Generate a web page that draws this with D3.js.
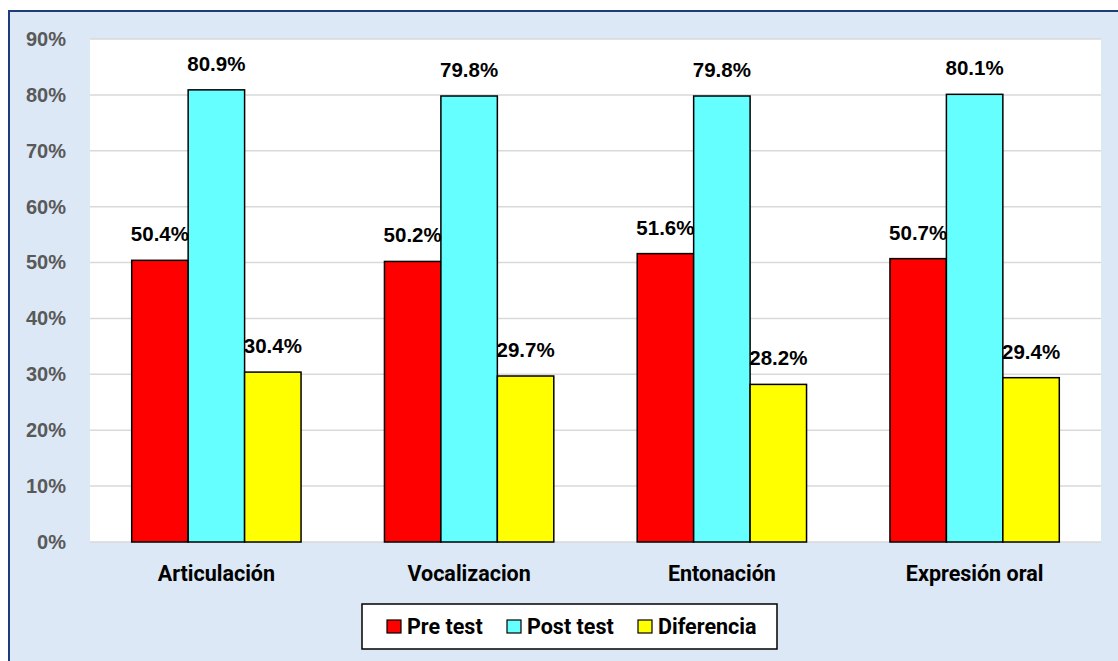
<!DOCTYPE html>
<html>
<head>
<meta charset="utf-8">
<script src="https://cdn.jsdelivr.net/npm/d3@7"></script>
<style>
  body { margin: 0; background: #fff; }
</style>
</head>
<body>
<div id="chart"></div>
<script>
// data
const categories = ["Articulación", "Vocalizacion", "Entonación", "Expresión oral"];
const seriesNames = ["Pre test", "Post test", "Diferencia"];
const preTest = [50.4, 50.2, 51.6, 50.7];
const postTest = [80.9, 79.8, 79.8, 80.1];
const diferencia = [30.4, 29.7, 28.2, 29.4];
const yTicks = [0, 10, 20, 30, 40, 50, 60, 70, 80, 90];
const colors = ["#ff0000", "#66ffff", "#ffff00"];

const W = 1118, H = 661;
const margin = { top: 39, right: 17, bottom: 119, left: 90 };
const width = W - margin.left - margin.right,
  height = H - margin.top - margin.bottom;

const svg = d3.select("#chart").append("svg")
  .attr("width", W)
  .attr("height", H);

// light blue chart area with dark border
svg.append("rect")
  .attr("x", 9).attr("y", 11)
  .attr("width", W + 20).attr("height", H + 20)
  .attr("fill", "#dce8f5")
  .attr("stroke", "#1f3b78")
  .attr("stroke-width", 2);

const g = svg.append("g")
  .attr("transform", `translate(${margin.left},${margin.top})`);

g.append("rect")
  .attr("width", width).attr("height", height)
  .attr("fill", "#fff");

const x0 = d3.scaleBand().domain(categories).range([0, width]).paddingInner(0).paddingOuter(0);
const x1 = d3.scaleBand().domain(seriesNames).range([0, x0.bandwidth() * 0.67]);
const groupOffset = x0.bandwidth() * 0.165;
const y = d3.scaleLinear().domain([0, 90]).range([height, 0]);

// gridlines
g.selectAll(".grid")
  .data(yTicks)
  .join("line")
  .attr("x1", 0).attr("x2", width)
  .attr("y1", d => y(d)).attr("y2", d => y(d))
  .attr("stroke", "#d9d9d9")
  .attr("stroke-width", 1.5);

// y axis labels
const yAxis = g.append("g")
  .call(d3.axisLeft(y).tickValues(yTicks).tickFormat(d => d + "%").tickSize(0).tickPadding(24));
yAxis.select(".domain").remove();
yAxis.selectAll("text")
  .style("font-family", "'Liberation Sans', Arial, sans-serif")
  .style("font-weight", "bold")
  .style("font-size", "20px")
  .attr("fill", "#595959");

const rows = categories.map((c, i) => ({
  cat: c,
  values: [preTest[i], postTest[i], diferencia[i]]
}));

const groups = g.selectAll(".grp")
  .data(rows)
  .join("g")
  .attr("transform", d => `translate(${x0(d.cat) + groupOffset},0)`);

groups.selectAll("rect")
  .data(d => d.values.map((v, j) => ({ name: seriesNames[j], v: v, j: j })))
  .join("rect")
  .attr("x", d => x1(d.name))
  .attr("y", d => y(d.v))
  .attr("width", x1.bandwidth())
  .attr("height", d => y(0) - y(d.v))
  .attr("fill", d => colors[d.j])
  .attr("stroke", "#000")
  .attr("stroke-width", 1.5);

groups.selectAll("text")
  .data(d => d.values.map((v, j) => ({ name: seriesNames[j], v: v, j: j })))
  .join("text")
  .attr("x", d => x1(d.name) + x1.bandwidth() / 2)
  .attr("y", d => y(d.v) - 19)
  .attr("text-anchor", "middle")
  .style("font-family", "'Liberation Sans', Arial, sans-serif")
  .style("font-weight", "bold")
  .style("font-size", "20.5px")
  .text(d => d.v.toFixed(1) + "%");

// category labels
g.selectAll(".cat")
  .data(categories)
  .join("text")
  .attr("x", d => x0(d) + x0.bandwidth() / 2)
  .attr("y", height + 39)
  .attr("text-anchor", "middle")
  .style("font-family", "Roboto, 'Noto Sans', sans-serif")
  .style("font-weight", "bold")
  .style("font-size", "21.5px")
  .text(d => d);

// legend
const legend = svg.append("g").attr("transform", "translate(362,604)");
legend.append("rect")
  .attr("width", 415).attr("height", 45)
  .attr("fill", "#fff")
  .attr("stroke", "#000")
  .attr("stroke-width", 1.5);

const legendX = [25, 145, 276];
const item = legend.selectAll(".item")
  .data(seriesNames)
  .join("g")
  .attr("transform", (d, i) => `translate(${legendX[i]},0)`);
item.append("rect")
  .attr("y", 16).attr("width", 14).attr("height", 13)
  .attr("fill", (d, i) => colors[i])
  .attr("stroke", "#000")
  .attr("stroke-width", 1.2);
item.append("text")
  .attr("x", 20).attr("y", 29.5)
  .style("font-family", "Roboto, 'Noto Sans', sans-serif")
  .style("font-weight", "bold")
  .style("font-size", "21.5px")
  .text(d => d);
</script>
</body>
</html>
